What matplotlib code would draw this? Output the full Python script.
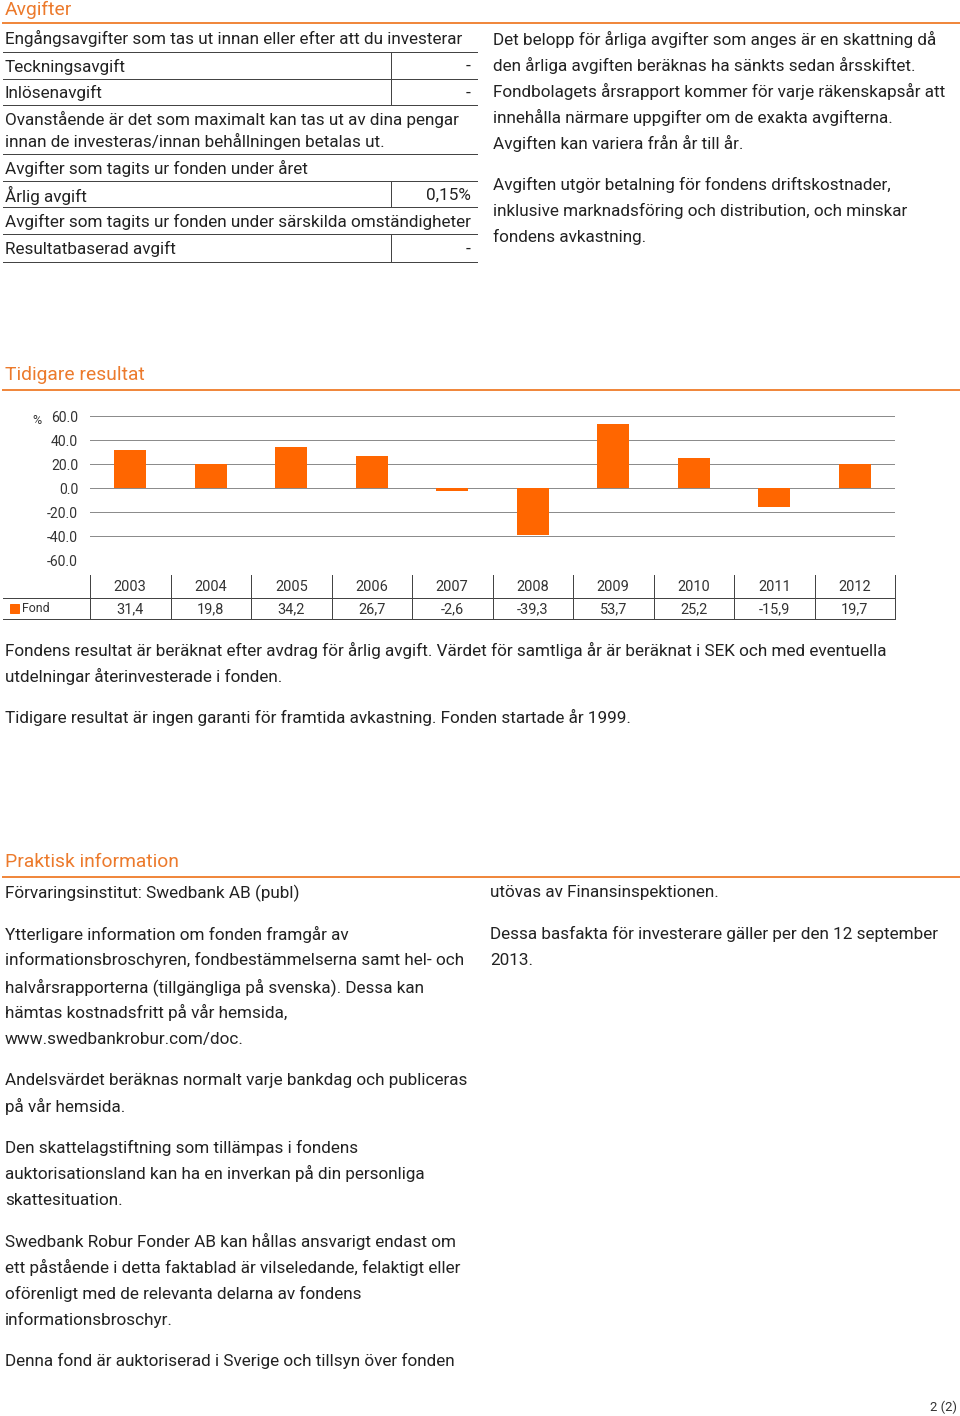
import matplotlib.pyplot as plt

plt.rcParams['font.family'] = ['Roboto', 'DejaVu Sans']

# data
years = ['2003', '2004', '2005', '2006', '2007', '2008', '2009', '2010', '2011', '2012']
fond = [31.4, 19.8, 34.2, 26.7, -2.6, -39.3, 53.7, 25.2, -15.9, 19.7]
fond_labels = ['31,4', '19,8', '34,2', '26,7', '-2,6', '-39,3', '53,7', '25,2', '-15,9', '19,7']
yticks = [60, 40, 20, 0, -20, -40, -60]

fee_rows = [
    ('Engångsavgifter som tas ut innan eller efter att du investerar', None),
    ('Teckningsavgift', '-'),
    ('Inlösenavgift', '-'),
    ('Ovanstående är det som maximalt kan tas ut av dina pengar\ninnan de investeras/innan behållningen betalas ut.', None),
    ('Avgifter som tagits ur fonden under året', None),
    ('Årlig avgift', '0,15%'),
    ('Avgifter som tagits ur fonden under särskilda omständigheter', None),
    ('Resultatbaserad avgift', '-'),
]

fee_notes = [
    ['Det belopp för årliga avgifter som anges är en skattning då',
     'den årliga avgiften beräknas ha sänkts sedan årsskiftet.',
     'Fondbolagets årsrapport kommer för varje räkenskapsår att',
     'innehålla närmare uppgifter om de exakta avgifterna.',
     'Avgiften kan variera från år till år.'],
    ['Avgiften utgör betalning för fondens driftskostnader,',
     'inklusive marknadsföring och distribution, och minskar',
     'fondens avkastning.'],
]

result_notes = [
    ['Fondens resultat är beräknat efter avdrag för årlig avgift. Värdet för samtliga år är beräknat i SEK och med eventuella',
     'utdelningar återinvesterade i fonden.'],
    ['Tidigare resultat är ingen garanti för framtida avkastning. Fonden startade år 1999.'],
]

info_left = [
    ['Förvaringsinstitut: Swedbank AB (publ)'],
    ['Ytterligare information om fonden framgår av',
     'informationsbroschyren, fondbestämmelserna samt hel- och',
     'halvårsrapporterna (tillgängliga på svenska). Dessa kan',
     'hämtas kostnadsfritt på vår hemsida,',
     'www.swedbankrobur.com/doc.'],
    ['Andelsvärdet beräknas normalt varje bankdag och publiceras',
     'på vår hemsida.'],
    ['Den skattelagstiftning som tillämpas i fondens',
     'auktorisationsland kan ha en inverkan på din personliga',
     'skattesituation.'],
    ['Swedbank Robur Fonder AB kan hållas ansvarigt endast om',
     'ett påstående i detta faktablad är vilseledande, felaktigt eller',
     'oförenligt med de relevanta delarna av fondens',
     'informationsbroschyr.'],
    ['Denna fond är auktoriserad i Sverige och tillsyn över fonden'],
]

info_right = [
    ['utövas av Finansinspektionen.'],
    ['Dessa basfakta för investerare gäller per den 12 september',
     '2013.'],
]

ORANGE = '#FF6600'
HEAD = '#EC7A2C'
TXT = '#222222'
FS = 17.1
LH = 26.2

W, H = 960, 1416
fig = plt.figure(figsize=(W / 72, H / 72), dpi=72)
page = fig.add_axes([0, 0, 1, 1])
page.set_xlim(0, W)
page.set_ylim(H, 0)
page.axis('off')


def header(title, y_text, y_line):
    page.text(5, y_text, title, color=HEAD, fontsize=19.3, va='center')
    page.plot([3, 960], [y_line, y_line], color='#F0883E', lw=2)


def paragraphs(x, y, blocks, gap=15):
    for block in blocks:
        for line in block:
            page.text(x, y, line, color=TXT, fontsize=FS, va='center')
            y += LH
        y += gap


# Avgifter
header('Avgifter', 9.5, 23)
row_lines = [52, 79, 105, 154, 181, 207, 234, 262]
top = 23
for (label, val), bottom in zip(fee_rows, row_lines):
    nlines = label.count('\n') + 1
    if nlines == 1:
        page.text(5, (top + bottom) / 2 + 1, label, color=TXT, fontsize=FS, va='center')
    else:
        for i, part in enumerate(label.split('\n')):
            page.text(5, top + 14 + i * 22, part, color=TXT, fontsize=FS, va='center')
    if val is not None:
        page.text(471, (top + bottom) / 2 + 1, val, color=TXT, fontsize=FS, va='center', ha='right')
        page.plot([391, 391], [top, bottom], color='#444444', lw=1)
    page.plot([3, 477], [bottom, bottom], color='#444444', lw=1)
    top = bottom

paragraphs(493, 39, fee_notes)

# Tidigare resultat
header('Tidigare resultat', 375, 390)

x0, x1 = 90, 895
y_top, y_bot = 416, 560
ax = fig.add_axes([x0 / W, 1 - y_bot / H, (x1 - x0) / W, (y_bot - y_top) / H])
idx = list(range(len(years)))
ax.bar(idx, fond, width=0.4, color=ORANGE, zorder=3)
ax.set_xlim(-0.5, len(years) - 0.5)
ax.set_ylim(-60, 60)
ax.set_yticks(yticks)
ax.set_yticklabels(['%.1f' % v for v in yticks])
ax.set_xticks([])
ax.tick_params(axis='y', length=0, pad=12, labelsize=14, labelcolor='#333333')
for v in yticks:
    ax.axhline(v, color='#8c8c8c', lw=1, zorder=1)
for s in ax.spines.values():
    s.set_visible(False)
page.text(37, 421, '%', color='#333333', fontsize=12.5, va='center', ha='center')

# data table under chart
slot = (x1 - x0) / len(years)
t_top, t_mid, t_bot = 575, 598, 619
for k in range(len(years) + 1):
    xk = x0 + k * slot
    page.plot([xk, xk], [t_top, t_bot], color='#444444', lw=1)
page.plot([3, x0 + len(years) * slot], [t_mid, t_mid], color='#444444', lw=1)
page.plot([3, x0 + len(years) * slot], [t_bot, t_bot], color='#444444', lw=1)
for k, (yr, lab) in enumerate(zip(years, fond_labels)):
    xc = x0 + (k + 0.5) * slot
    page.text(xc, 587, yr, color='#333333', fontsize=14.5, ha='center', va='center')
    page.text(xc, 609, lab, color='#333333', fontsize=14.5, ha='center', va='center')
page.add_patch(plt.Rectangle((10, 604), 9, 9, color=ORANGE))
page.text(22, 609, 'Fond', color='#333333', fontsize=12.4, va='center')

paragraphs(5, 650, result_notes)

# Praktisk information
header('Praktisk information', 862, 877)
paragraphs(5, 893, info_left)
paragraphs(490, 893, info_right)

page.text(957, 1407, '2 (2)', color='#333333', fontsize=13, ha='right', va='center')

fig.savefig('out.png', dpi=72)
